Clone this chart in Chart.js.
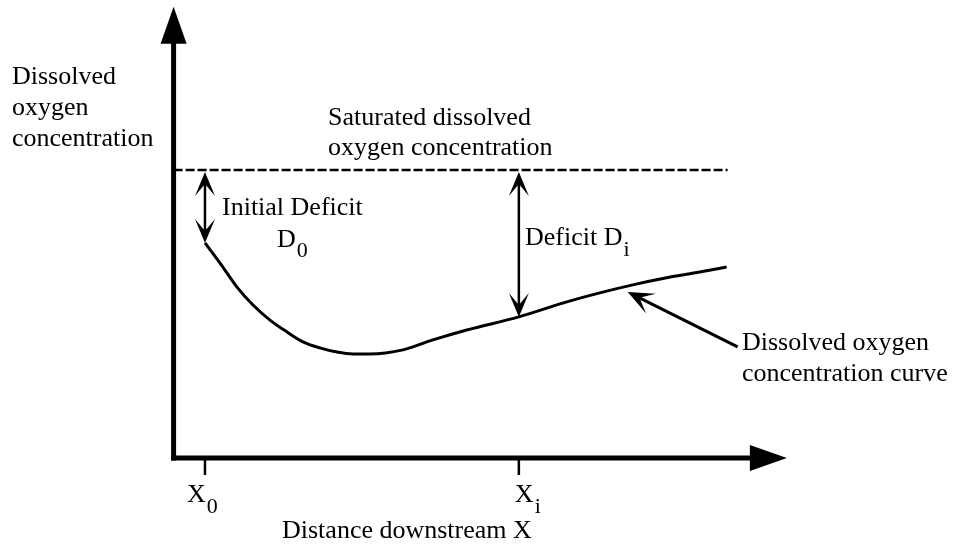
<!DOCTYPE html>
<html>
<head>
<meta charset="utf-8">
<script src="https://cdn.jsdelivr.net/npm/chart.js@4.4.1/dist/chart.umd.min.js"></script>
<style>
  html, body { margin: 0; padding: 0; background: #fff; }
  #wrap { width: 959px; height: 546px; position: relative; }
</style>
</head>
<body>
<div id="wrap"><canvas id="chart"></canvas></div>
<script>
// Distance downstream (X0 = 0, Xi = 10) et concentration en oxygène dissous
const distance = [0, 0.48, 1.02, 1.53, 2.07, 2.61, 3.12, 3.66, 4.2, 4.71, 5.25, 6.31, 7.26, 8.34, 10, 11.53, 12.58, 13.63, 14.71, 15.76, 16.62];
const oxygen = [6.72, 6.09, 5.34, 4.78, 4.31, 3.94, 3.63, 3.44, 3.31, 3.25, 3.25, 3.38, 3.69, 4.0, 4.41, 4.88, 5.16, 5.41, 5.63, 5.81, 5.97];
const saturation = 9;
const saturationRange = [-1, 16.65];
const tickValues = [0, 10];
const tickSubs = ['0', 'i'];
const xMin = -1, xMax = 18.54, yMax = 14.1;

const FONT = '"Liberation Serif", "Times New Roman", serif';

// Pointe de flèche concave (tip au point donné, orientée selon ang)
function arrowHead(ctx, tx, ty, ang, len, hw, notch) {
    ctx.save();
    ctx.translate(tx, ty);
    ctx.rotate(ang);
    ctx.beginPath();
    ctx.moveTo(0, 0);
    ctx.lineTo(-len, -hw);
    ctx.lineTo(-len + notch, 0);
    ctx.lineTo(-len, hw);
    ctx.closePath();
    ctx.fill();
    ctx.restore();
}

function subText(ctx, main, sub, x, y, subDy) {
    ctx.font = '26px ' + FONT;
    ctx.fillText(main, x, y);
    const w = ctx.measureText(main).width;
    ctx.font = '22px ' + FONT;
    ctx.fillText(sub, x + w + 1, y + subDy);
}

const annotations = {
    id: 'annotations',
    afterDatasetsDraw(chart) {
        const { ctx, scales: { x, y } } = chart;
        const px = v => x.getPixelForValue(v);
        const py = v => y.getPixelForValue(v);
        ctx.save();
        ctx.fillStyle = '#000';
        ctx.strokeStyle = '#000';
        ctx.lineCap = 'butt';

        const ox = px(xMin), oy = py(0);
        // Axe vertical
        ctx.lineWidth = 5;
        ctx.beginPath();
        ctx.moveTo(ox, oy + 2.5);
        ctx.lineTo(ox, py(yMax) + 30);
        ctx.stroke();
        ctx.beginPath();
        ctx.moveTo(ox, py(yMax));
        ctx.lineTo(ox - 13, py(yMax) + 37);
        ctx.lineTo(ox + 13, py(yMax) + 37);
        ctx.closePath();
        ctx.fill();
        // Axe horizontal
        ctx.beginPath();
        ctx.moveTo(ox - 2.5, oy);
        ctx.lineTo(px(xMax) - 30, oy);
        ctx.stroke();
        ctx.beginPath();
        ctx.moveTo(px(xMax), oy);
        ctx.lineTo(px(xMax) - 37, oy - 13);
        ctx.lineTo(px(xMax) - 37, oy + 13);
        ctx.closePath();
        ctx.fill();

        // Graduations X0 et Xi
        ctx.lineWidth = 2.5;
        tickValues.forEach(t => {
            ctx.beginPath();
            ctx.moveTo(px(t), oy + 2);
            ctx.lineTo(px(t), oy + 17);
            ctx.stroke();
        });

        // Flèches de déficit (double sens)
        const deficits = [[tickValues[0], oxygen[0]], [tickValues[1], oxygen[distance.indexOf(tickValues[1])]]];
        deficits.forEach(([dx, dy]) => {
            const sx = px(dx), top = py(saturation) + 2, bot = py(dy);
            ctx.lineWidth = 2.5;
            ctx.beginPath();
            ctx.moveTo(sx, top + 10);
            ctx.lineTo(sx, bot - 10);
            ctx.stroke();
            arrowHead(ctx, sx, top, -Math.PI / 2, 24, 10, 12);
            arrowHead(ctx, sx, bot, Math.PI / 2, 24, 10, 12);
        });

        // Flèche vers la courbe
        const tailX = px(16.97), tailY = py(3.47), tipX = px(13.47), tipY = py(5.19);
        const ang = Math.atan2(tipY - tailY, tipX - tailX);
        ctx.lineWidth = 3;
        ctx.beginPath();
        ctx.moveTo(tailX, tailY);
        ctx.lineTo(tipX - 12 * Math.cos(ang), tipY - 12 * Math.sin(ang));
        ctx.stroke();
        arrowHead(ctx, tipX, tipY, ang, 26, 11, 13);

        // Textes
        ctx.textBaseline = 'alphabetic';
        ctx.textAlign = 'left';
        ctx.font = '26px ' + FONT;
        ctx.fillText('Dissolved', 12, 84);
        ctx.fillText('oxygen', 12, 115);
        ctx.fillText('concentration', 12, 146);
        ctx.fillText('Saturated dissolved', 328, 125);
        ctx.fillText('oxygen concentration', 328, 155);
        ctx.fillText('Initial Deficit', 222, 215);
        subText(ctx, 'D', '0', 277, 247, 10);
        subText(ctx, 'Deficit D', 'i', 525, 245, 11);
        ctx.font = '26px ' + FONT;
        ctx.fillText('Dissolved oxygen', 742, 350);
        ctx.fillText('concentration curve', 742, 381);
        subText(ctx, 'X', tickSubs[0], px(tickValues[0]) - 18, 502, 11);
        subText(ctx, 'X', tickSubs[1], px(tickValues[1]) - 4, 502, 11);
        ctx.font = '26px ' + FONT;
        ctx.fillText('Distance downstream X', 282, 538);
        ctx.restore();
    }
};

new Chart(document.getElementById('chart'), {
    type: 'line',
    data: {
        datasets: [
            {
                label: 'Saturated',
                data: saturationRange.map(v => ({ x: v, y: saturation })),
                borderColor: '#000',
                borderWidth: 2.5,
                borderDash: [9, 3],
                pointRadius: 0
            },
            {
                label: 'Dissolved oxygen',
                data: distance.map((d, i) => ({ x: d, y: oxygen[i] })),
                borderColor: '#000',
                borderWidth: 3,
                pointRadius: 0,
                cubicInterpolationMode: 'monotone'
            }
        ]
    },
    options: {
        responsive: true,
        maintainAspectRatio: false,
        animation: false,
        layout: { padding: { left: 173.6, right: 172.1, top: 6.8, bottom: 88 } },
        plugins: { legend: { display: false }, tooltip: { enabled: false } },
        scales: {
            x: { type: 'linear', min: xMin, max: xMax, display: false },
            y: { type: 'linear', min: 0, max: yMax, display: false }
        }
    },
    plugins: [annotations]
});
</script>
</body>
</html>
